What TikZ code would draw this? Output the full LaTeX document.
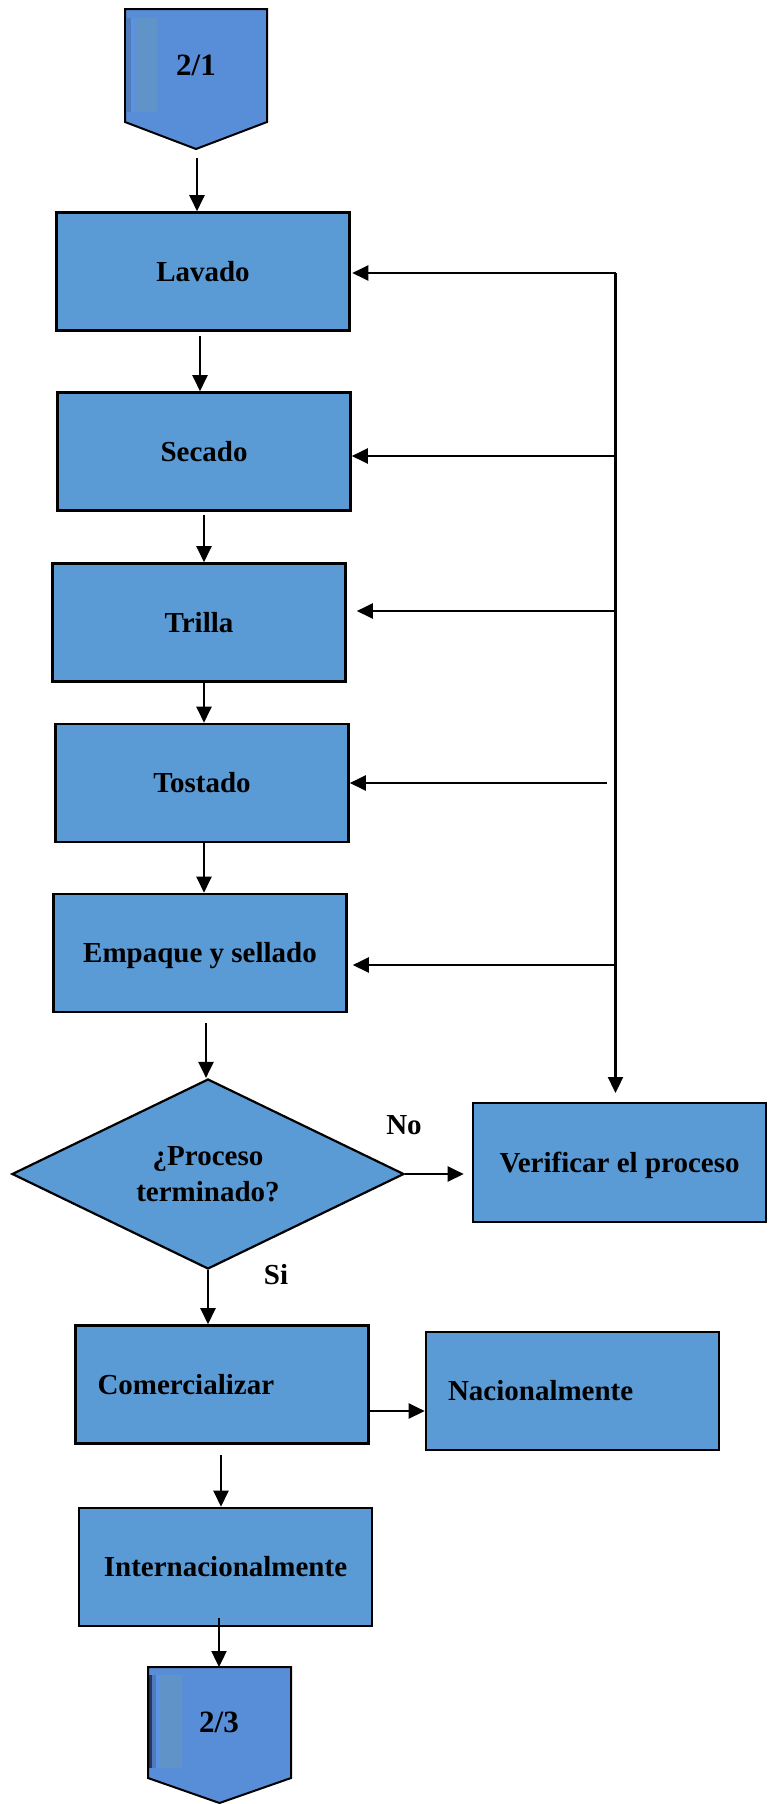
\documentclass[tikz,border=0pt]{standalone}
\usepackage{fontspec}
\setmainfont{Liberation Serif}
\usetikzlibrary{arrows.meta,shapes.geometric}

\definecolor{boxblue}{RGB}{91,155,213}
\definecolor{tagblue}{RGB}{88,142,216}
\definecolor{stripeA}{RGB}{80,122,186}
\definecolor{stripeB}{RGB}{92,146,228}
\definecolor{stripeD}{RGB}{96,148,200}
\definecolor{stripeC}{RGB}{36,56,100}

\begin{document}
\begin{tikzpicture}[x=1pt,y=-1pt,
  every node/.style={font=\fontsize{29}{36}\selectfont\bfseries},
  procbox/.style={draw=black, line width=2.6pt, fill=boxblue,
    minimum width=293pt, minimum height=118pt, inner sep=0pt,
    text height=19pt, text depth=0pt},
  leftbox/.style={procbox, align=left, text width=249pt, inner xsep=22pt},
  decision/.style={diamond, draw=black, line width=2.2pt, fill=boxblue,
    minimum width=392pt, minimum height=190pt, aspect=2.06,
    inner sep=0pt, align=center},
  tag/.style={draw=black, line width=2pt, line join=miter},
  tagtext/.style={font=\fontsize{31}{36}\selectfont\bfseries, inner sep=0pt,
    text height=20.5pt, text depth=0pt},
  answer/.style={inner sep=0pt, text height=19pt, text depth=0pt},
  arr/.style={-{Triangle[length=16pt,width=15pt]}, line width=2.3pt},
]
\useasboundingbox (0,0) rectangle (769,1804);

% off-page connector at the top
\coordinate (p1a) at (125,9);
\coordinate (p1b) at (267,9);
\coordinate (p1c) at (267,122);
\coordinate (p1tip) at (196,149);
\coordinate (p1d) at (125,122);
\fill[tagblue] (p1a) -- (p1b) -- (p1c) -- (p1tip) -- (p1d) -- cycle;
\fill[stripeA] (127,18) rectangle (131,112);
\fill[stripeB] (131,18) rectangle (135,112);
\fill[stripeD] (135,18) rectangle (157,112);
\draw[tag] (p1a) -- (p1b) -- (p1c) -- (p1tip) -- (p1d) -- cycle;
\node[tagtext] (t1) at (196,65) {2/1};

% process steps
\node[procbox] (lav) at (203,271.5) {Lavado};
\node[procbox] (sec) at (204,451.5) {Secado};
\node[procbox] (tri) at (199,622.5) {Trilla};
\node[procbox] (tos) at (202,783) {Tostado};
\node[procbox] (emp) at (200,953) {Empaque y sellado};

\node[decision] (dia) at (208,1174) {¿Proceso\\terminado?};
\node[procbox, minimum height=119pt] (ver) at (619.5,1162.5) {Verificar el proceso};

\node[leftbox] (com) at (222,1384.5) {Comercializar};
\node[leftbox] (nac) at (572.5,1391) {Nacionalmente};
\node[procbox] (int) at (225.5,1567) {Internacionalmente};

\node[answer] (no) at (404,1125) {No};
\node[answer] (si) at (276,1275) {Si};

% off-page connector at the bottom
\coordinate (p2a) at (148,1667);
\coordinate (p2b) at (291,1667);
\coordinate (p2c) at (291,1778);
\coordinate (p2tip) at (219.5,1803);
\coordinate (p2d) at (148,1778);
\fill[tagblue] (p2a) -- (p2b) -- (p2c) -- (p2tip) -- (p2d) -- cycle;
\fill[stripeC] (149,1675) rectangle (152,1768);
\fill[stripeA] (152,1675) rectangle (156,1768);
\fill[stripeB] (156,1675) rectangle (160,1768);
\fill[stripeD] (160,1675) rectangle (182,1768);
\draw[tag] (p2a) -- (p2b) -- (p2c) -- (p2tip) -- (p2d) -- cycle;
\node[tagtext] (t2) at (219,1722) {2/3};

% main flow
\coordinate (s1) at (197,158);
\draw[arr] (s1) -- (s1 |- lav.north);
\coordinate (s2) at (200,336);
\draw[arr] (s2) -- (s2 |- sec.north);
\coordinate (s3) at (204,515);
\draw[arr] (s3) -- (s3 |- tri.north);
\coordinate (s4) at (204,682);
\draw[arr] (s4) -- (s4 |- tos.north);
\coordinate (s5) at (204,842);
\draw[arr] (s5) -- (s5 |- emp.north);
\coordinate (s6) at (206,1023);
\draw[arr] (s6) -- (s6 |- dia.north);
\draw[arr] (dia.south) -- (dia.south |- com.north);
\draw[arr, shorten >=8pt] (dia.east) -- (dia.east -| ver.west);
\coordinate (c1) at (369,1411);
\draw[arr] (c1) -- (c1 -| nac.west);
\coordinate (s8) at (221,1455);
\draw[arr] (s8) -- (s8 |- int.north);
\coordinate (s9) at (219,1618);
\draw[arr] (s9) -- (s9 |- p2a);

% return line from the check back to each step
\coordinate (fb0) at (615.5,273);
\coordinate (fb1) at (615.5,456);
\coordinate (fb2) at (615.5,611);
\coordinate (fb3) at (607,783);
\coordinate (fb4) at (615.5,965);
\coordinate (fbend) at (615.5,1093);
\draw[arr] (fb0) -- (fbend);
\draw[arr, shorten >=1.5pt] (fb0) -- (fb0 -| lav.east);
\draw[arr] (fb1) -- (fb1 -| sec.east);
\draw[arr, shorten >=10pt] (fb2) -- (fb2 -| tri.east);
\draw[arr] (fb3) -- (fb3 -| tos.east);
\draw[arr, shorten >=5pt] (fb4) -- (fb4 -| emp.east);
\end{tikzpicture}
\end{document}
